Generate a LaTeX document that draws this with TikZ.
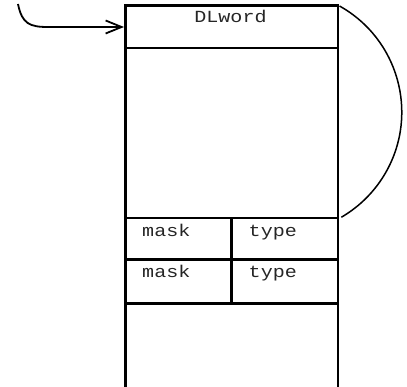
\documentclass[tikz,border=0pt]{standalone}
\usepackage{fontspec}
\setmonofont{Liberation Mono}
\usetikzlibrary{arrows.meta}
\begin{document}
\begin{tikzpicture}[x=1pt,y=-1pt,
  frame/.style={line width=2.7pt},
  lbl/.style={font=\ttfamily\fontsize{17}{17}\selectfont, inner sep=0pt, text=black!85, xscale=1.18},
  link/.style={line width=1.5pt},
  ptr/.style={line width=1.8pt, -{Straight Barb[length=16pt,width=13pt]}}]
\useasboundingbox (0,0) rectangle (407,387);
% box outline
\draw[frame] (125.5,387) -- (125.5,5.5) -- (338,5.5) -- (338,387);
\draw[frame] (125.5,48) -- (338,48);
\draw[frame] (125.5,218) -- (338,218);
\draw[frame] (125.5,259.5) -- (338,259.5);
\draw[frame] (125.5,303.5) -- (338,303.5);
\draw[frame] (231.5,218) -- (231.5,303.5);
% labels
\node[lbl, anchor=base] (dl) at (230.5,22.7) {DLword};
\node[lbl, anchor=base west] (m1) at (142,236.7) {mask};
\node[lbl, anchor=base west] (t1) at (248.5,236.7) {type};
\node[lbl, anchor=base west] (m2) at (142,278) {mask};
\node[lbl, anchor=base west] (t2) at (248.5,278) {type};
% connectors
\coordinate (top) at (339.5,6);
\coordinate (bot) at (339.5,217);
\draw[link] (top) arc[start angle=-60.8, end angle=59.8, radius=121.6];
\coordinate (src) at (18,4);
\coordinate (entry) at (124,27);
\draw[ptr] (src) .. controls (22,24) and (30,27) .. (48,27) -- (entry);
\end{tikzpicture}
\end{document}
